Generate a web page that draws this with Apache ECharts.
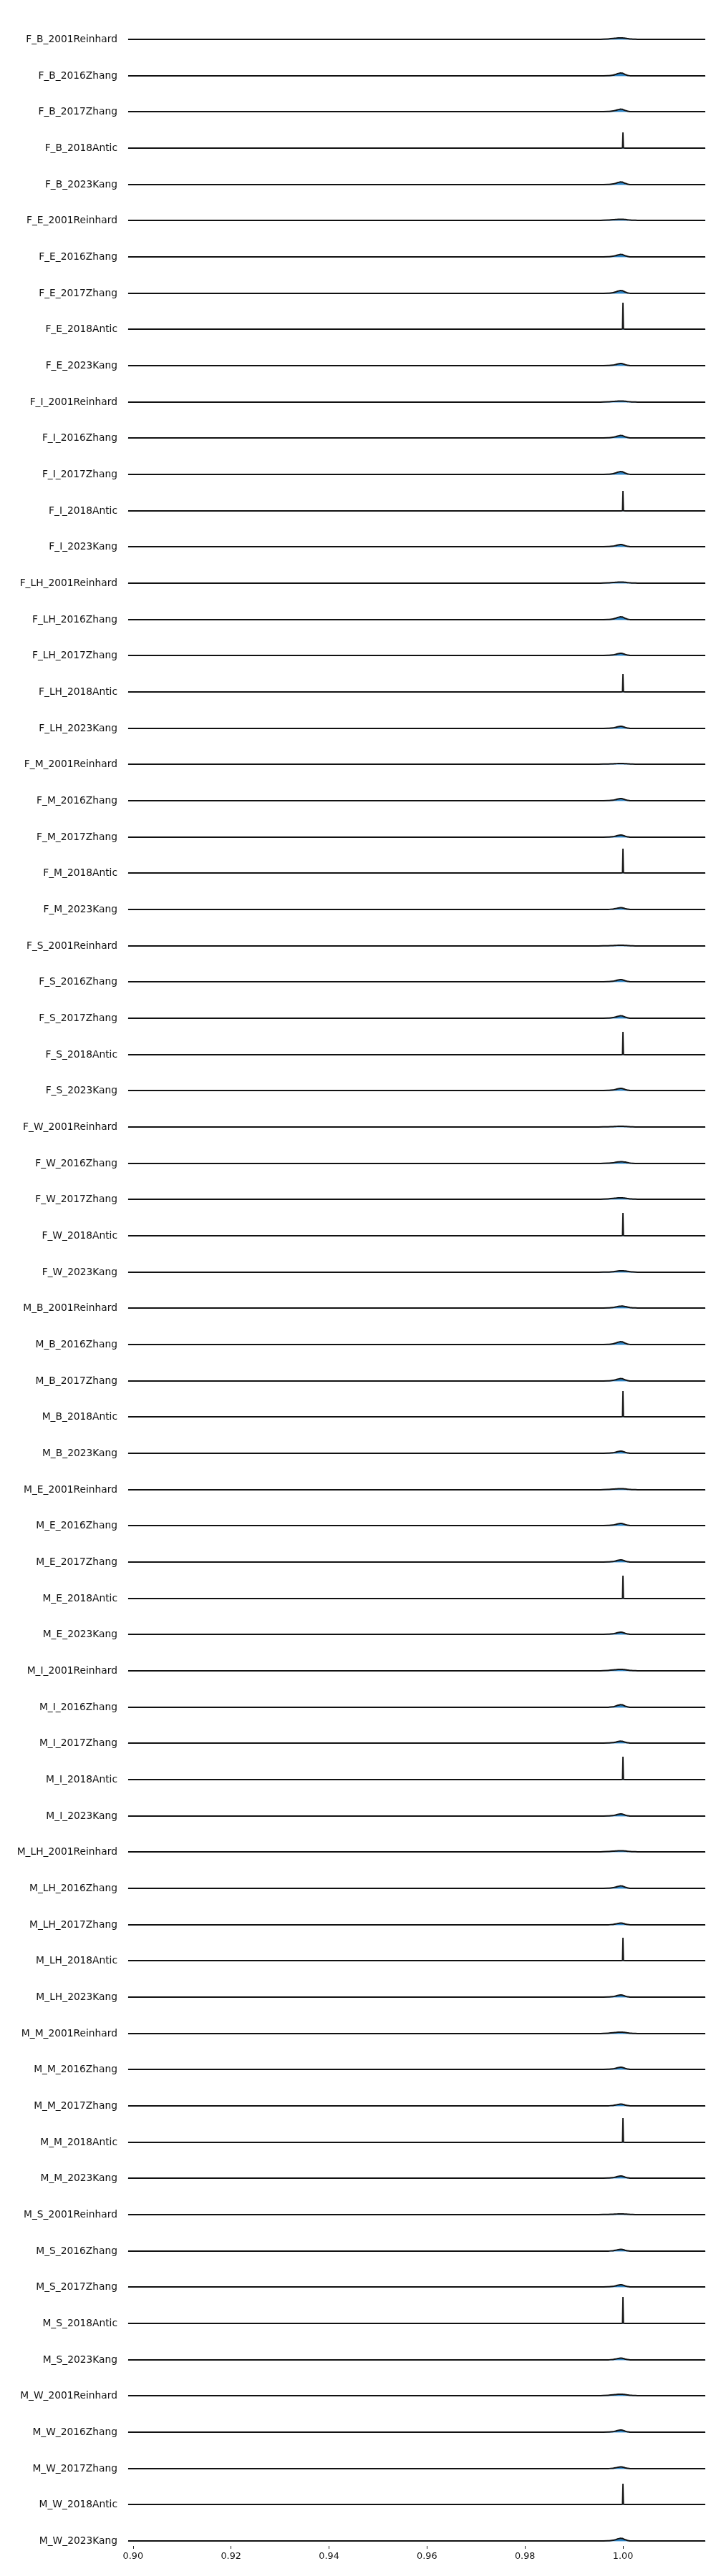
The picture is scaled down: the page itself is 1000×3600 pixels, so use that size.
<!DOCTYPE html>
<html><head><meta charset="utf-8">
<script src="https://cdn.jsdelivr.net/npm/echarts@6/dist/echarts.min.js"></script>
<style>html,body{margin:0;padding:0;background:#fff}#c{width:1000px;height:3600px}</style>
</head><body><div id="c"></div>
<script>
// x positions where the densities were read
const xs = [0.899, 0.992, 0.995, 0.997, 0.998, 0.9985, 0.999, 0.9995, 0.9999, 1.0000, 1.0001, 1.0005, 1.001, 1.0015, 1.002, 1.003, 1.005, 1.0168];

const groups = ['F_B','F_E','F_I','F_LH','F_M','F_S','F_W','M_B','M_E','M_I','M_LH','M_M','M_S','M_W'];
const studies = ['2001Reinhard','2016Zhang','2017Zhang','2018Antic','2023Kang'];
const categories = [];
groups.forEach(g => studies.forEach(s => categories.push(g + '_' + s)));

const tickValues = [0.90, 0.92, 0.94, 0.96, 0.98, 1.00];

// density values (one row per study)
const F_B = [
  [0,0,10,60,120,160,190,200,196,190,180,160,110,60,30,6,0,0],
  [0,0,0,20,100,200,320,400,370,340,300,180,60,12,0,0,0,0],
  [0,0,0,18,90,175,280,350,325,300,260,160,55,10,0,0,0,0],
  [0,0,0,0,0,0,0,0,20,2200,20,0,0,0,0,0,0,0],
  [0,0,0,18,92,185,296,370,345,315,275,165,55,11,0,0,0,0]
];
const F_E = [
  [0,0,8,45,90,120,142,150,146,142,138,120,82,45,22,5,0,0],
  [0,0,0,18,90,175,280,350,325,300,260,160,55,10,0,0,0,0],
  [0,0,0,20,100,200,320,400,370,340,300,180,60,12,0,0,0,0],
  [0,0,0,0,0,0,0,0,20,3700,20,0,0,0,0,0,0,0],
  [0,0,0,15,75,150,240,300,280,255,225,135,45,9,0,0,0,0]
];
const F_I = [
  [0,0,8,45,90,120,142,150,146,142,138,120,82,45,22,5,0,0],
  [0,0,0,18,90,175,280,350,325,300,260,160,55,10,0,0,0,0],
  [0,0,0,20,100,200,320,400,370,340,300,180,60,12,0,0,0,0],
  [0,0,0,0,0,0,0,0,20,2800,20,0,0,0,0,0,0,0],
  [0,0,0,15,75,150,240,300,280,255,225,135,45,9,0,0,0,0]
];
const F_LH = [
  [0,0,8,45,90,120,142,150,146,142,138,120,82,45,22,5,0,0],
  [0,0,0,20,100,200,320,400,370,340,300,180,60,12,0,0,0,0],
  [0,0,0,15,75,150,240,300,280,255,225,135,45,9,0,0,0,0],
  [0,0,0,0,0,0,0,0,20,2500,20,0,0,0,0,0,0,0],
  [0,0,0,15,75,150,240,300,280,255,225,135,45,9,0,0,0,0]
];
const F_M = [
  [0,0,5,30,60,80,95,100,97,95,92,80,55,30,15,3,0,0],
  [0,0,0,15,75,150,240,300,280,255,225,135,45,9,0,0,0,0],
  [0,0,0,15,75,150,240,300,280,255,225,135,45,9,0,0,0,0],
  [0,0,0,0,0,0,0,0,20,3400,20,0,0,0,0,0,0,0],
  [0,0,0,12,62,125,200,250,232,212,190,112,38,8,0,0,0,0]
];
const F_S = [
  [0,0,5,30,60,80,95,100,97,95,92,80,55,30,15,3,0,0],
  [0,0,0,15,75,150,240,300,280,255,225,135,45,9,0,0,0,0],
  [0,0,0,18,90,175,280,350,325,300,260,160,55,10,0,0,0,0],
  [0,0,0,0,0,0,0,0,20,3200,20,0,0,0,0,0,0,0],
  [0,0,0,15,75,150,240,300,280,255,225,135,45,9,0,0,0,0]
];
const F_W = [
  [0,0,5,30,60,80,95,100,97,95,92,80,55,30,15,3,0,0],
  [0,0,10,50,110,170,220,250,242,235,228,190,120,55,20,4,0,0],
  [0,0,10,60,120,160,190,200,196,190,180,160,110,60,30,6,0,0],
  [0,0,0,0,0,0,0,0,20,3200,20,0,0,0,0,0,0,0],
  [0,0,5,25,70,130,180,200,200,195,190,165,120,70,40,10,0,0]
];
const M_B = [
  [0,0,0,20,80,150,220,260,268,265,258,210,130,60,25,5,0,0],
  [0,0,0,20,100,200,320,400,370,340,300,180,60,12,0,0,0,0],
  [0,0,0,18,90,175,280,350,325,300,260,160,55,10,0,0,0,0],
  [0,0,0,0,0,0,0,0,20,3600,20,0,0,0,0,0,0,0],
  [0,0,0,15,75,150,240,300,280,255,225,135,45,9,0,0,0,0]
];
const M_E = [
  [0,0,8,45,90,120,142,150,146,142,138,120,82,45,22,5,0,0],
  [0,0,0,15,75,150,240,300,280,255,225,135,45,9,0,0,0,0],
  [0,0,0,15,75,150,240,300,280,255,225,135,45,9,0,0,0,0],
  [0,0,0,0,0,0,0,0,20,3200,20,0,0,0,0,0,0,0],
  [0,0,0,15,75,150,240,300,280,255,225,135,45,9,0,0,0,0]
];
const M_I = [
  [0,0,10,60,120,160,190,200,196,190,180,160,110,60,30,6,0,0],
  [0,0,0,10,70,170,290,370,345,320,280,160,50,8,0,0,0,0],
  [0,0,0,14,68,135,216,270,250,230,205,122,40,8,0,0,0,0],
  [0,0,0,0,0,0,0,0,20,3200,20,0,0,0,0,0,0,0],
  [0,0,0,15,75,150,240,300,280,255,225,135,45,9,0,0,0,0]
];
const M_LH = [
  [0,0,8,45,90,120,142,150,146,142,138,120,82,45,22,5,0,0],
  [0,0,0,18,90,175,280,350,325,300,260,160,55,10,0,0,0,0],
  [0,0,0,12,62,125,200,250,232,212,190,112,38,8,0,0,0,0],
  [0,0,0,0,0,0,0,0,20,3200,20,0,0,0,0,0,0,0],
  [0,0,0,15,75,150,240,300,280,255,225,135,45,9,0,0,0,0]
];
const M_M = [
  [0,0,10,60,120,160,190,200,196,190,180,160,110,60,30,6,0,0],
  [0,0,0,15,75,150,240,300,280,255,225,135,45,9,0,0,0,0],
  [0,0,0,12,62,125,200,250,232,212,190,112,38,8,0,0,0,0],
  [0,0,0,0,0,0,0,0,20,3400,20,0,0,0,0,0,0,0],
  [0,0,0,15,75,150,240,300,280,255,225,135,45,9,0,0,0,0]
];
const M_S = [
  [0,0,5,30,60,80,95,100,97,95,92,80,55,30,15,3,0,0],
  [0,0,0,12,62,125,200,250,232,212,190,112,38,8,0,0,0,0],
  [0,0,0,15,75,150,240,300,280,255,225,135,45,9,0,0,0,0],
  [0,0,0,0,0,0,0,0,20,3700,20,0,0,0,0,0,0,0],
  [0,0,0,12,62,125,200,250,232,212,190,112,38,8,0,0,0,0]
];
const M_W = [
  [0,0,10,60,120,160,190,200,196,190,180,160,110,60,30,6,0,0],
  [0,0,0,15,75,150,240,300,280,255,225,135,45,9,0,0,0,0],
  [0,0,0,12,62,125,200,250,232,212,190,112,38,8,0,0,0,0],
  [0,0,0,0,0,0,0,0,20,2900,20,0,0,0,0,0,0,0],
  [0,0,0,18,92,185,296,370,345,315,275,165,55,11,0,0,0,0]
];

const rows = [].concat(F_B, F_E, F_I, F_LH, F_M, F_S, F_W, M_B, M_E, M_I, M_LH, M_M, M_S, M_W);

// layout
const FIRST_BASE = 55, LAST_BASE = 3551, ROW_H = 45, LEFT = 179, RIGHT = 15;
const XMIN = 0.899, XMAX = 1.0168, YMAX = 4500;
const n = categories.length;
const step = (LAST_BASE - FIRST_BASE) / (n - 1);
const FONT = 'DejaVu Sans';

const grid = [], xAxis = [], yAxis = [], series = [];
categories.forEach((name, i) => {
  const base = Math.round(FIRST_BASE + i * step);
  grid.push({left: LEFT, right: RIGHT, top: base - ROW_H, height: ROW_H, outerBoundsMode: 'none'});
  xAxis.push({
    gridIndex: i, type: 'value', min: XMIN, max: XMAX, position: 'bottom', offset: 1.5,
    axisLine: {show: true, lineStyle: {color: '#a9cfee', width: 1}},
    axisTick: {show: false}, axisLabel: {show: false}, splitLine: {show: false}
  });
  yAxis.push({
    gridIndex: i, type: 'value', min: 0, max: YMAX, interval: YMAX,
    axisLine: {show: false}, axisTick: {show: false}, splitLine: {show: false},
    axisLabel: {show: true, margin: 15, fontSize: 13.8, color: '#111', fontFamily: FONT,
      formatter: v => (v === 0 ? name : '')}
  });
  const isSpike = Math.max(...rows[i]) > 1500;
  series.push({
    type: 'line', xAxisIndex: i, yAxisIndex: i,
    data: xs.map((x, j) => [x, rows[i][j]]),
    showSymbol: false, smooth: isSpike ? false : 0.35, smoothMonotone: 'x',
    lineStyle: {color: '#111', width: isSpike ? 1.8 : 2},
    areaStyle: {color: '#2e86c8', opacity: 1, origin: 'start'},
    silent: true, animation: false
  });
});
// bottom tick axis
xAxis.push({
  gridIndex: n - 1, type: 'value', min: XMIN, max: XMAX, position: 'bottom', offset: 7,
  axisLine: {show: false},
  axisTick: {show: true, customValues: tickValues, length: 4, lineStyle: {color: '#222', width: 1}},
  axisLabel: {show: true, customValues: tickValues, formatter: v => v.toFixed(2), fontSize: 12.8, margin: 8, color: '#111', fontFamily: FONT},
  splitLine: {show: false}
});

const chart = echarts.init(document.getElementById('c'), null, {renderer: 'canvas'});
chart.setOption({animation: false, backgroundColor: '#fff', grid, xAxis, yAxis, series});
</script>
</body></html>
